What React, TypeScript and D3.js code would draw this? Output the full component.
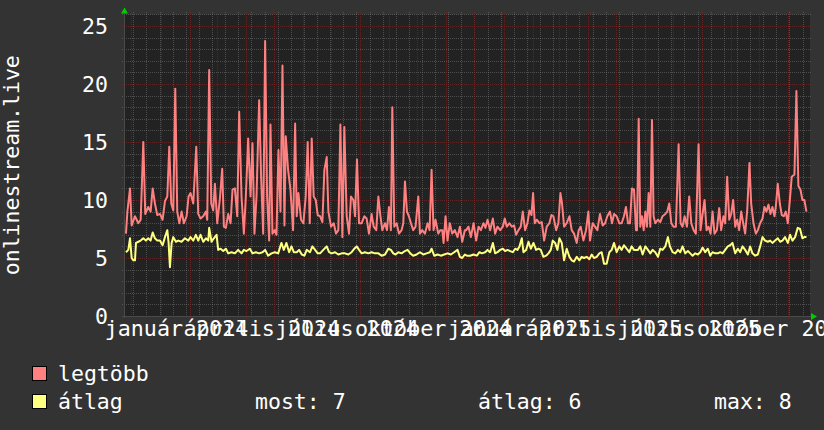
import React from "react";
import * as d3 from "d3";

const W = 824;
const H = 430;
const DAY = 864e5;
const START = Date.UTC(2023, 10, 23);
const END = Date.UTC(2025, 10, 24);

const MONTHS_HU = ["január", "február", "március", "április", "május", "június", "július", "augusztus", "szeptember", "október", "november", "december"];
const Y_TICKS = [0, 5, 10, 15, 20, 25];
const Y_MAX = 26;
const Y_TITLE = "onlinestream.live";
const SERIES_NAMES = ["legtöbb", "átlag"];
const SERIES_COLORS = ["#ff8080", "#ffff80"];
const STAT_LABELS = ["most", "átlag", "max"];

// legtöbb (max) series: day offset from START, value
const maxDays = [2.1, 3.6, 6.4, 8.2, 11.7, 15.3, 17.8, 20.6, 22.7, 25.9, 28.4, 30.6, 33.0, 35.5, 38.4, 41.2, 43.7, 46.2, 48.3, 50.4, 52.6, 54.7, 56.8, 59.0, 61.5, 63.9, 66.8, 68.9, 71.0, 73.9, 77.1, 79.2, 81.7, 84.5, 87.4, 88.8, 90.9, 93.1, 95.2, 97.0, 99.5, 102.3, 104.8, 106.6, 108.7, 111.2, 113.7, 115.8, 118.3, 120.8, 122.9, 125.4, 127.9, 130.0, 132.5, 135.0, 137.1, 139.2, 141.4, 144.2, 146.3, 148.5, 150.6, 152.7, 154.9, 156.3, 158.4, 160.9, 162.7, 164.8, 167.0, 169.1, 171.2, 172.6, 175.1, 177.6, 180.4,
  182.6, 184.3, 186.1, 188.9, 191.4, 193.9, 196.0, 198.2, 200.3, 202.4, 204.6, 206.7, 209.2, 211.7, 213.8, 216.3, 218.1, 220.9, 223.8, 226.2, 228.7, 230.9, 233.0, 235.1, 237.6, 240.1, 242.2, 244.7, 246.5, 248.6, 250.8, 253.6, 256.4, 258.9, 261.4, 264.2, 266.4, 269.2, 271.4, 273.5, 275.6, 278.5, 280.6, 282.7, 284.8, 286.3, 288.4, 290.9, 293.4, 296.2, 298.0, 299.8, 301.9, 304.0, 306.2, 308.6, 311.1, 314.0, 315.8, 318.2, 321.1, 323.9, 326.1, 328.2, 330.3, 332.4, 335.3, 337.4, 339.6, 341.0, 343.1, 345.2, 347.7, 350.2, 353.0, 355.9, 358.4, 360.9, 363.7,
  365.1, 367.6, 370.1, 373.0, 375.8, 378.3, 380.8, 383.6, 385.7, 387.9, 390.7, 393.6, 396.0, 398.5, 401.4, 404.2, 406.3, 408.5, 411.3, 413.8, 416.3, 418.4, 420.9, 423.4, 425.5, 428.0, 430.5, 432.6, 434.8, 436.5, 438.3, 440.4, 443.3, 445.8, 448.3, 451.1, 453.9, 456.1, 458.2, 461.1, 463.5, 465.7, 467.4, 469.6, 472.4, 475.3, 477.7, 480.2, 483.1, 485.2, 487.3, 490.2, 493.0, 495.5, 497.3, 500.1, 502.6, 505.1, 507.9, 510.8, 513.3, 515.7, 518.6, 520.7, 522.9, 525.7, 528.5, 531.0, 533.5, 535.6, 537.8, 539.9, 542.0, 544.2, 546.3,
  547.4, 549.2, 550.9, 552.7, 554.5, 556.3, 558.0, 559.8, 561.6, 563.4, 565.1, 566.9, 569.8, 572.2, 574.7, 577.6, 579.7, 581.8, 584.0, 586.4, 588.9, 591.8, 593.9, 596.0, 598.2, 600.7, 603.1, 605.3, 607.8, 610.2, 613.1, 615.2, 617.4, 619.5, 621.6, 623.7, 625.9, 628.0, 630.1, 632.6, 635.1, 637.2, 639.7, 641.5, 643.6, 645.8, 647.9, 650.0, 652.2, 654.3, 656.4, 658.6, 660.7, 662.8, 665.0, 667.4, 669.2, 671.7, 674.2, 676.3, 678.8, 681.3, 683.4, 685.5, 687.7, 689.8, 691.9, 694.1, 695.5, 697.6, 699.8, 701.9, 704.0, 706.1, 708.3, 710.4, 712.5, 715.4, 717.5, 719.6, 721.8, 723.9, 726.0, 728.2];
const maxVals = [7.1, 9.0, 11.0, 7.8, 8.6, 8.0, 8.3, 15.0, 8.8, 9.4, 9.0, 11.0, 9.7, 8.7, 8.8, 8.3, 9.9, 10.3, 14.6, 9.7, 9.1, 19.6, 9.0, 8.0, 9.0, 8.0, 8.6, 10.3, 10.6, 9.7, 14.6, 8.8, 8.4, 8.6, 9.0, 8.3, 21.2, 9.7, 9.1, 11.4, 8.0, 10.1, 12.7, 7.7, 7.6, 8.8, 8.0, 10.9, 11.0, 8.6, 17.6, 10.3, 7.1, 10.3, 15.3, 10.3, 14.9, 7.1, 10.3, 18.6, 12.0, 7.1, 23.7, 10.3, 6.5, 16.5, 7.1, 7.4, 7.0, 14.3, 9.0, 21.6, 7.8, 15.5, 12.6, 10.9, 7.4,
  16.6, 8.6, 10.6, 8.3, 8.0, 10.3, 15.0, 8.0, 15.3, 10.3, 10.0, 8.7, 8.6, 8.1, 12.6, 13.7, 9.0, 7.7, 8.0, 7.1, 7.4, 16.5, 6.8, 16.3, 8.6, 7.1, 10.3, 10.0, 8.6, 13.5, 8.0, 8.0, 8.6, 8.4, 7.1, 8.8, 7.7, 7.4, 10.3, 8.7, 7.4, 8.0, 7.4, 9.4, 7.4, 18.0, 7.7, 8.0, 7.1, 7.4, 8.0, 11.6, 9.0, 8.6, 8.0, 7.4, 7.7, 10.3, 7.1, 7.4, 7.1, 8.0, 7.4, 12.6, 7.4, 8.3, 7.1, 7.4, 7.4, 6.3, 8.6, 6.5, 8.0, 7.1, 7.4, 6.8, 7.7, 6.4, 7.4,
  7.4, 7.7, 6.8, 8.0, 6.5, 7.7, 7.4, 8.0, 7.6, 8.3, 7.4, 8.4, 7.1, 7.7, 7.4, 7.7, 8.4, 7.7, 8.0, 7.7, 7.8, 7.0, 7.4, 7.7, 9.0, 7.4, 8.0, 9.1, 8.7, 10.6, 8.0, 8.3, 8.0, 8.1, 6.5, 7.7, 8.0, 8.7, 8.6, 7.4, 8.0, 10.6, 9.7, 7.7, 8.0, 8.6, 7.4, 7.1, 6.3, 7.4, 7.7, 6.5, 7.4, 9.0, 6.5, 8.0, 7.7, 7.4, 8.8, 7.8, 8.0, 8.6, 9.0, 8.0, 8.8, 8.6, 8.0, 8.0, 8.6, 9.4, 8.0, 8.0, 11.0, 10.9, 7.4,
  7.4, 17.0, 7.7, 8.6, 7.4, 9.0, 7.7, 10.6, 7.7, 16.9, 8.6, 8.0, 8.3, 8.1, 8.6, 8.8, 9.0, 9.7, 8.0, 7.7, 7.7, 14.8, 8.0, 7.7, 8.6, 7.7, 10.3, 8.0, 7.4, 7.1, 14.8, 7.4, 8.8, 10.0, 7.4, 7.7, 7.1, 9.0, 7.1, 7.4, 9.3, 7.4, 8.6, 8.0, 12.0, 8.3, 8.8, 10.0, 7.7, 8.3, 7.4, 9.0, 8.0, 7.1, 9.1, 13.2, 9.7, 8.0, 7.1, 7.4, 8.0, 8.4, 9.4, 9.0, 9.6, 8.8, 9.4, 8.6, 9.4, 11.4, 9.7, 8.7, 8.6, 9.0, 8.0, 9.9, 12.0, 12.2, 19.4, 11.2, 10.9, 10.0, 10.0, 9.0];

// átlag (average) series
const avgDays = [2.1, 4.6, 6.4, 8.2, 10.0, 11.7, 12.8, 15.3, 17.8, 20.6, 23.4, 25.9, 28.4, 30.6, 33.0, 35.5, 38.4, 41.2, 43.7, 46.2, 47.6, 49.0, 50.8, 52.6, 55.4, 57.9, 61.4, 65.0, 68.6, 71.0, 73.9, 76.7, 79.2, 81.7, 84.5, 87.4, 89.9, 90.9, 93.4, 95.9, 98.8, 100.5, 103.0, 105.9, 108.7, 111.2, 114.7, 118.3, 121.8, 125.4, 127.9, 130.7, 134.3, 137.1, 140.7, 144.2, 147.8, 150.6, 153.8, 157.4, 160.9, 164.5, 168.0, 170.5, 173.3, 176.2, 178.7, 181.2,
  184.3, 186.8, 189.7, 192.5, 195.0, 198.5, 201.0, 203.9, 206.7, 209.2, 212.7, 216.3, 218.8, 221.6, 225.2, 228.7, 232.3, 235.8, 239.4, 242.9, 245.8, 248.3, 250.8, 253.6, 257.1, 260.7, 264.2, 267.8, 271.4, 274.9, 278.5, 282.0, 284.8, 287.3, 289.8, 292.7, 296.2, 299.8, 302.6, 305.5, 308.6, 312.2, 315.8, 319.3, 322.9, 326.4, 328.2, 331.0, 334.6, 338.1, 341.7, 345.2, 348.8, 352.3, 355.9, 358.4, 360.9, 363.7,
  365.9, 369.4, 373.0, 376.5, 379.3, 381.8, 385.4, 387.9, 390.7, 393.6, 396.0, 398.5, 401.4, 404.2, 406.7, 409.2, 412.0, 414.9, 417.4, 419.8, 422.0, 424.5, 426.2, 429.1, 431.6, 434.1, 436.9, 439.7, 442.2, 444.7, 447.5, 450.4, 452.9, 455.4, 457.5, 460.0, 462.5, 464.6, 467.1, 469.6, 472.4, 475.3, 477.7, 480.2, 483.1, 485.9, 488.4, 490.9, 493.7, 496.6, 499.1, 501.5, 504.4, 507.2, 509.7, 512.2, 515.0, 517.9, 520.4, 522.9, 525.7, 528.5, 531.0, 533.5, 536.3, 539.2, 541.7, 544.2,
  548.4, 550.9, 553.4, 556.3, 559.1, 561.6, 564.1, 566.9, 569.8, 572.2, 574.7, 577.6, 580.4, 582.5, 585.4, 588.2, 591.1, 593.6, 596.0, 598.9, 601.7, 604.2, 606.7, 609.5, 612.4, 614.9, 617.4, 620.2, 623.0, 625.5, 628.0, 630.8, 633.7, 636.2, 638.7, 641.5, 644.3, 646.8, 649.3, 652.2, 655.0, 657.5, 660.0, 662.8, 665.7, 668.1, 670.6, 673.5, 676.3, 678.8, 681.3, 684.1, 687.0, 689.5, 691.9, 694.8, 697.6, 700.1, 702.6, 705.4, 708.3, 710.8, 713.3, 716.1, 718.9, 721.4, 723.9, 726.0, 728.2];
const avgVals = [5.5, 5.7, 6.7, 5.0, 4.8, 4.8, 6.3, 6.4, 6.5, 6.7, 6.5, 6.7, 6.5, 7.2, 6.7, 6.5, 6.5, 6.1, 6.8, 7.4, 6.3, 4.2, 6.3, 6.8, 6.4, 6.5, 6.4, 6.7, 6.5, 6.8, 6.5, 7.0, 6.5, 7.0, 6.4, 6.7, 6.5, 7.6, 6.4, 6.7, 7.0, 5.7, 5.8, 5.6, 5.8, 5.4, 5.5, 5.4, 5.7, 5.4, 5.7, 5.6, 5.8, 5.4, 5.5, 5.4, 5.5, 5.7, 5.2, 5.4, 5.5, 5.4, 6.3, 5.7, 6.3, 5.5, 6.0, 5.5,
  5.5, 5.7, 5.3, 5.2, 5.7, 5.5, 6.0, 5.7, 5.4, 5.4, 5.7, 6.0, 5.5, 5.4, 5.5, 5.3, 5.4, 5.4, 5.3, 5.5, 5.8, 6.0, 5.7, 5.4, 5.5, 5.4, 5.5, 5.4, 5.4, 5.2, 5.3, 5.8, 5.7, 5.4, 5.3, 5.5, 5.4, 5.6, 5.7, 5.4, 5.2, 5.3, 5.5, 5.3, 5.4, 5.5, 5.8, 5.2, 5.3, 5.2, 5.3, 5.4, 5.3, 5.5, 5.7, 5.1, 5.0, 5.3,
  5.2, 5.2, 5.3, 5.2, 5.5, 5.4, 5.5, 5.7, 5.5, 6.3, 5.4, 5.5, 5.7, 5.8, 5.6, 5.7, 5.6, 5.5, 5.8, 5.7, 6.0, 6.7, 5.5, 5.7, 6.4, 5.8, 6.3, 5.7, 5.8, 5.7, 5.1, 5.2, 5.4, 5.7, 6.5, 6.3, 5.7, 6.7, 6.3, 4.8, 5.8, 5.1, 4.8, 4.7, 5.1, 4.8, 5.1, 5.0, 5.1, 4.9, 5.3, 5.0, 5.1, 5.4, 5.5, 4.5, 4.5, 5.5, 5.7, 6.3, 5.5, 6.0, 5.7, 6.1, 5.8, 5.5, 6.0, 5.7,
  5.7, 6.0, 5.3, 6.0, 5.7, 5.4, 5.7, 5.5, 5.1, 5.8, 5.7, 6.0, 6.8, 6.0, 5.5, 5.4, 5.7, 5.5, 6.0, 5.4, 5.6, 5.4, 5.2, 5.4, 5.3, 5.5, 5.9, 5.5, 5.8, 5.2, 5.5, 5.4, 5.4, 5.5, 5.4, 5.7, 6.0, 6.1, 6.3, 5.4, 5.8, 5.5, 6.0, 5.7, 5.3, 6.0, 5.4, 5.2, 5.3, 6.0, 6.8, 6.5, 6.4, 6.5, 6.3, 6.5, 6.7, 6.4, 6.5, 6.8, 6.3, 7.0, 6.5, 6.8, 7.6, 7.5, 6.7, 6.8, 6.8];

const FONT = "'DejaVu Sans Mono', monospace";
const LEFT = 124;
const RIGHT = 810;
const TOP = 14.4;
const BOTTOM = 316;
const LABEL_OFFSET_DAYS = 17;
const MINOR_X_START_DAY = 10;
const MINOR_X_STEP_DAYS = 14;

export default function App() {
  const x = d3.scaleUtc().domain([new Date(START), new Date(END)]).range([LEFT, RIGHT]);
  const y = d3.scaleLinear().domain([0, Y_MAX]).range([BOTTOM, TOP]);
  const toDate = (d: number) => new Date(START + d * DAY);

  const maxData = maxDays.map((d, i) => ({ t: toDate(d), v: maxVals[i] }));
  const avgData = avgDays.map((d, i) => ({ t: toDate(d), v: avgVals[i] }));
  const line = d3
    .line<{ t: Date; v: number }>()
    .x((d) => x(d.t))
    .y((d) => y(d.v));

  const minorY = d3.range(1, Y_MAX + 1).filter((v) => v % 5 !== 0);
  const majorY = d3.range(0, Y_MAX + 1, 5);
  const months = d3.utcMonth.range(new Date(START), new Date(END));
  const minorX = d3
    .range(MINOR_X_START_DAY, (END - START) / DAY, MINOR_X_STEP_DAYS)
    .map(toDate);
  const quarters = d3.utcMonth.every(3)!.range(new Date(START), new Date(END));

  const last = avgVals[avgVals.length - 1];
  const mean = d3.mean(avgVals) as number;
  const mx = d3.max(avgVals) as number;
  const stats = [last, mean, mx].map((v) => d3.format(".0f")(v));

  const grid = "rgba(130,130,130,0.45)";
  const mgrid = "rgba(115,38,38,0.75)";

  return (
    <svg
      width={W}
      height={H}
      style={{ position: "absolute", left: 0, top: 0, display: "block" }}
      fontFamily={FONT}
    >
      <defs>
        <clipPath id="plotclip">
          <rect x={LEFT} y={TOP} width={RIGHT - LEFT} height={BOTTOM - TOP} />
        </clipPath>
      </defs>
      <rect width={W} height={H} fill="#333333" />
      <rect x={LEFT} y={TOP} width={RIGHT - LEFT} height={BOTTOM - TOP} fill="#222222" />

      <g shapeRendering="crispEdges" strokeWidth={1}>
        {minorY.map((v) => (
          <line key={"my" + v} x1={LEFT - 2} x2={RIGHT + 2} y1={Math.round(y(v)) + 0.5} y2={Math.round(y(v)) + 0.5} stroke={grid} strokeDasharray="1,1" />
        ))}
        {minorX.map((t, i) => (
          <line key={"mx" + i} x1={Math.round(x(t)) + 0.5} x2={Math.round(x(t)) + 0.5} y1={TOP - 2} y2={BOTTOM + 2} stroke={grid} strokeDasharray="1,1" />
        ))}
        {majorY.map((v) => (
          <line key={"My" + v} x1={LEFT - 2} x2={RIGHT + 2} y1={Math.round(y(v)) + 0.5} y2={Math.round(y(v)) + 0.5} stroke={mgrid} strokeDasharray="1,1" />
        ))}
        {months.map((t, i) => (
          <line key={"Mx" + i} x1={Math.round(x(t)) + 0.5} x2={Math.round(x(t)) + 0.5} y1={TOP - 2} y2={BOTTOM + 3} stroke={mgrid} strokeDasharray="1,1" />
        ))}
        <line x1={LEFT + 0.5} x2={LEFT + 0.5} y1={TOP - 2} y2={BOTTOM + 2} stroke="#4a4a4a" />
        <line x1={LEFT - 2} x2={RIGHT + 2} y1={BOTTOM + 0.5} y2={BOTTOM + 0.5} stroke="#4a4a4a" />
      </g>

      <g clipPath="url(#plotclip)" fill="none" strokeWidth={2} strokeLinejoin="round">
        <path d={line(maxData) || ""} stroke={SERIES_COLORS[0]} />
        <path d={line(avgData) || ""} stroke={SERIES_COLORS[1]} />
      </g>

      {/* axis arrows */}
      <path d={`M${LEFT - 3},${TOP - 1} L${LEFT + 4},${TOP - 1} L${LEFT + 0.5},${TOP - 7} Z`} fill="#00cc00" />
      <path d={`M${RIGHT + 1},${BOTTOM - 3} L${RIGHT + 1},${BOTTOM + 4} L${RIGHT + 7},${BOTTOM + 0.5} Z`} fill="#00cc00" />

      {/* y tick labels */}
      <g fill="#ffffff" fontSize={21.5} textAnchor="end">
        {Y_TICKS.map((v) => (
          <text key={v} x={108} y={y(v)} dy="0.37em">
            {v}
          </text>
        ))}
      </g>

      {/* x labels */}
      <g fill="#ffffff" fontSize={21.7} textAnchor="middle">
        {quarters.map((t, i) => (
          <text key={i} x={x(new Date(+t + LABEL_OFFSET_DAYS * DAY))} y={336} style={{ whiteSpace: "pre" }}>
            {`${MONTHS_HU[t.getUTCMonth()]} ${t.getUTCFullYear()}`}
          </text>
        ))}
      </g>

      {/* y title */}
      <text
        transform={`translate(18.5, ${(TOP + BOTTOM) / 2}) rotate(-90)`}
        fill="#ffffff"
        fontSize={21.5}
        textAnchor="middle"
      >
        {Y_TITLE}
      </text>

      {/* legend */}
      <g fontSize={21.5} fill="#ffffff">
        {SERIES_NAMES.map((name, i) => (
          <g key={name}>
            <rect x={32.5} y={366.5 + i * 28} width={14} height={14} fill={SERIES_COLORS[i]} stroke="#000" strokeWidth={1} />
            <text x={58} y={381 + i * 28}>
              {name}
            </text>
          </g>
        ))}
        {STAT_LABELS.map((lab, i) => (
          <text key={lab} x={[255, 478, 714][i]} y={409} style={{ whiteSpace: "pre" }}>
            {`${lab}: ${stats[i]}`}
          </text>
        ))}
      </g>
    </svg>
  );
}
